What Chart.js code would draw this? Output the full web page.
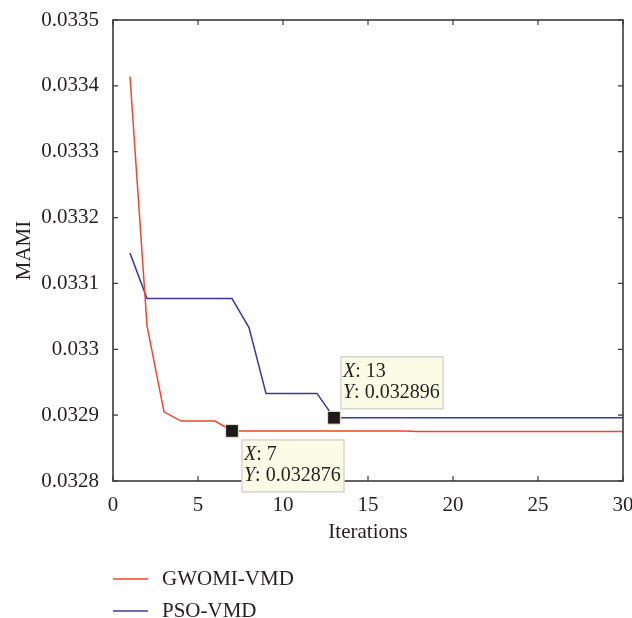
<!doctype html>
<html lang="en">
  <head>
    <meta charset="utf-8">
    <title>MAMI vs iterations</title>
    <style>
      * { margin: 0; padding: 0; }
      body { background: #fff; }
      .chartBox { width: 632px; height: 618px; }
    </style>
  </head>
  <body>
    <div class="chartBox"><canvas id="myChart"></canvas></div>
    <script src="https://cdn.jsdelivr.net/npm/chart.js/dist/chart.umd.min.js"></script>
    <script>
    // data
    const iterations = [1,2,3,4,5,6,7,8,9,10,11,12,13,14,15,16,17,18,19,20,21,22,23,24,25,26,27,28,29,30];
    const gwomiVmd = [0.033414, 0.033036, 0.032905, 0.032891, 0.032891, 0.032891, 0.032876, 0.032876, 0.032876, 0.032876,
      0.032876, 0.032876, 0.032876, 0.032876, 0.032876, 0.032876, 0.032876, 0.032875, 0.032875, 0.032875,
      0.032875, 0.032875, 0.032875, 0.032875, 0.032875, 0.032875, 0.032875, 0.032875, 0.032875, 0.032875];
    const psoVmd = [0.033146, 0.033077, 0.033077, 0.033077, 0.033077, 0.033077, 0.033077, 0.033033, 0.032933, 0.032933,
      0.032933, 0.032933, 0.032896, 0.032896, 0.032896, 0.032896, 0.032896, 0.032896, 0.032896, 0.032896,
      0.032896, 0.032896, 0.032896, 0.032896, 0.032896, 0.032896, 0.032896, 0.032896, 0.032896, 0.032896];
    const seriesNames = ['GWOMI-VMD', 'PSO-VMD'];
    const seriesColors = ['#f0462e', '#3b3a9c'];
    // data tips: [dataset index, point index]
    const tips = [[1, 12], [0, 6]];

    const FONT = '"Liberation Serif", "Times New Roman", serif';
    const INK = '#231f20';

    function pts(values) {
      return values.map((v, i) => ({ x: iterations[i], y: v }));
    }
    function tipRadius(dsIndex) {
      return iterations.map((_, i) => tips.some(t => t[0] === dsIndex && t[1] === i) ? 9 : 0);
    }

    const data = {
      datasets: seriesNames.map((name, k) => ({
        label: name,
        data: pts(k === 0 ? gwomiVmd : psoVmd),
        borderColor: seriesColors[k],
        borderWidth: 1.5,
        pointStyle: 'rect',
        pointRadius: tipRadius(k),
        pointBackgroundColor: '#1c1a1a',
        pointBorderColor: '#e8e6d0',
        pointBorderWidth: 1,
        tension: 0
      }))
    };

    // inward ticks, frame, data tips and legend
    const extras = {
      id: 'extras',
      afterDraw(chart) {
        const { ctx, chartArea: a, scales: { x, y } } = chart;
        ctx.save();
        ctx.strokeStyle = '#3a3a3a';
        ctx.lineWidth = 1.6;
        ctx.strokeRect(a.left, a.top, a.right - a.left, a.bottom - a.top);
        ctx.lineWidth = 1.2;
        ctx.beginPath();
        x.ticks.forEach(t => {
          const px = x.getPixelForValue(t.value);
          ctx.moveTo(px, a.bottom); ctx.lineTo(px, a.bottom - 5);
          ctx.moveTo(px, a.top); ctx.lineTo(px, a.top + 5);
        });
        y.ticks.forEach(t => {
          const py = y.getPixelForValue(t.value);
          ctx.moveTo(a.left, py); ctx.lineTo(a.left + 5, py);
          ctx.moveTo(a.right, py); ctx.lineTo(a.right - 5, py);
        });
        ctx.stroke();

        // data tip boxes
        tips.forEach(([d, i]) => {
          const el = chart.getDatasetMeta(d).data[i];
          const val = chart.data.datasets[d].data[i];
          const w = 102, h = 52;
          let bx, by;
          if (d === 1) { bx = el.x + 7; by = el.y - 9 - h; }
          else { bx = el.x + 10; by = el.y + 9; }
          ctx.fillStyle = '#fbfbe6';
          ctx.fillRect(bx, by, w, h);
          ctx.strokeStyle = '#d6d6d0';
          ctx.lineWidth = 1.5;
          ctx.strokeRect(bx, by, w, h);
          const lines = [['X', ': ' + val.x], ['Y', ': ' + val.y.toFixed(6)]];
          lines.forEach(([k, rest], j) => {
            const ty = by + 20 + j * 21;
            ctx.fillStyle = INK;
            ctx.textBaseline = 'alphabetic';
            ctx.font = 'italic 20px ' + FONT;
            ctx.fillText(k, bx + 2, ty);
            const kw = ctx.measureText(k).width;
            ctx.font = '20px ' + FONT;
            ctx.fillText(rest, bx + 2 + kw, ty);
          });
        });

        // legend
        seriesNames.forEach((name, k) => {
          const ly = 579 + k * 32;
          ctx.strokeStyle = seriesColors[k];
          ctx.lineWidth = 1.5;
          ctx.beginPath();
          ctx.moveTo(113, ly); ctx.lineTo(148, ly);
          ctx.stroke();
          ctx.fillStyle = INK;
          ctx.font = '21px ' + FONT;
          ctx.textBaseline = 'middle';
          ctx.fillText(name, 162, ly);
        });
        ctx.restore();
      }
    };

    const config = {
      type: 'line',
      data,
      options: {
        responsive: true,
        maintainAspectRatio: false,
        animation: false,
        layout: { padding: { top: 20, right: 0, bottom: 73, left: 0 } },
        plugins: { legend: { display: false }, tooltip: { enabled: false } },
        scales: {
          x: {
            type: 'linear',
            min: 0,
            max: 30,
            ticks: { stepSize: 5, color: INK, padding: 4, font: { family: FONT, size: 21 } },
            grid: { display: false },
            border: { display: false },
            title: { display: true, text: 'Iterations', color: INK, padding: 0, font: { family: FONT, size: 21 } },
            afterFit(scale) { scale.height = 64; scale.paddingRight = 9; scale.paddingLeft = 0; }
          },
          y: {
            min: 0.0328,
            max: 0.0335,
            ticks: {
              stepSize: 0.0001,
              color: INK,
              padding: 6,
              font: { family: FONT, size: 21 },
              callback: v => String(parseFloat(v.toFixed(4)))
            },
            grid: { display: false },
            border: { display: false },
            title: { display: true, text: 'MAMI', color: INK, padding: { top: 12, bottom: 0 }, font: { family: FONT, size: 21 } },
            afterFit(scale) { scale.width = 113; scale.paddingTop = 0; scale.paddingBottom = 0; }
          }
        }
      },
      plugins: [extras]
    };

    const myChart = new Chart(document.getElementById('myChart'), config);
    </script>
  </body>
</html>
